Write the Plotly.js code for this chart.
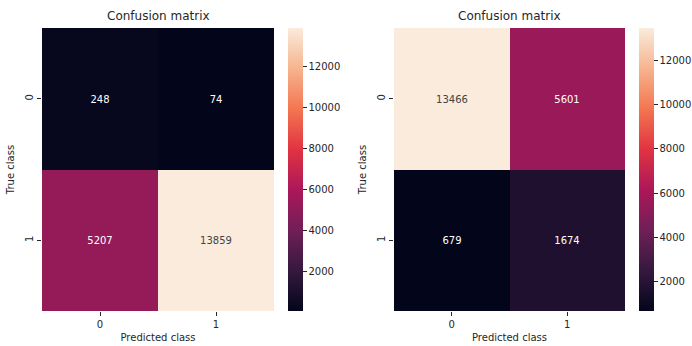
<!DOCTYPE html>
<html>
<head>
<meta charset="utf-8">
<script src="https://cdn.plot.ly/plotly-3.0.1.min.js"></script>
<style>html,body{margin:0;padding:0;background:#fff;}#chart{width:692px;height:346px;}</style>
</head>
<body>
<div id="chart"></div>
<script>
const predictedClasses = ["0", "1"];
const trueClasses = ["0", "1"];
const leftMatrix = [[248, 74], [5207, 13859]];
const rightMatrix = [[13466, 5601], [679, 1674]];
const colorbarTicks = [2000, 4000, 6000, 8000, 10000, 12000];

const rocket = [
  [0.0, '#03051a'],
  [0.143, '#35193e'],
  [0.286, '#701f57'],
  [0.429, '#ad1759'],
  [0.571, '#e13342'],
  [0.714, '#f37651'],
  [0.857, '#f6b48f'],
  [1.0, '#faebdd']
];

const FONT = 'DejaVu Sans, sans-serif';
const TXT = '#262626';
const W = 692, H = 346;
const px = v => v / W;
const py = v => 1 - v / H;

function flat(m) { return m.flat(); }

const traces = [
  {
    type: 'heatmap', x: predictedClasses, y: trueClasses, z: leftMatrix,
    coloraxis: 'coloraxis', xaxis: 'x', yaxis: 'y',
    texttemplate: '%{z:d}', textfont: {family: FONT, size: 10},
    hoverinfo: 'skip'
  },
  {
    type: 'heatmap', x: predictedClasses, y: trueClasses, z: rightMatrix,
    coloraxis: 'coloraxis2', xaxis: 'x2', yaxis: 'y2',
    texttemplate: '%{z:d}', textfont: {family: FONT, size: 10},
    hoverinfo: 'skip'
  }
];

function cbar(xLeft) {
  return {
    x: px(xLeft), xanchor: 'left', xref: 'paper',
    y: py(311), yanchor: 'bottom', yref: 'paper',
    len: 283, lenmode: 'pixels', thickness: 15, thicknessmode: 'pixels',
    xpad: 0, ypad: 0, outlinewidth: 0,
    tickmode: 'array', tickvals: colorbarTicks, tickformat: 'd',
    ticks: 'outside', ticklen: 4, tickwidth: 1, tickcolor: TXT,
    tickfont: {family: FONT, size: 10, color: TXT}
  };
}

function xax(l, r, anchor) {
  return {
    domain: [px(l), px(r)], anchor: anchor, type: 'category',
    showgrid: false, zeroline: false, showline: false,
    ticks: 'outside', ticklen: 4, tickcolor: TXT,
    tickfont: {family: FONT, size: 10, color: TXT},
    title: {text: 'Predicted class', font: {family: FONT, size: 10, color: TXT}, standoff: 4},
    fixedrange: true
  };
}
function yax(anchor) {
  return {
    domain: [py(311), py(28)], anchor: anchor, type: 'category', autorange: 'reversed',
    showgrid: false, zeroline: false, showline: false,
    ticks: 'outside', ticklen: 4, tickcolor: TXT, tickangle: -90,
    tickfont: {family: FONT, size: 10, color: TXT},
    title: {text: 'True class', font: {family: FONT, size: 10, color: TXT}, standoff: 7},
    fixedrange: true
  };
}

const layout = {
  width: W, height: H,
  margin: {l: 0, r: 0, t: 0, b: 0},
  paper_bgcolor: '#fff', plot_bgcolor: '#fff',
  font: {family: FONT, color: TXT},
  showlegend: false,
  xaxis: xax(42, 274, 'y'),
  yaxis: yax('x'),
  xaxis2: xax(394, 625, 'y2'),
  yaxis2: yax('x2'),
  coloraxis: {
    colorscale: rocket,
    cmin: Math.min(...flat(leftMatrix)), cmax: Math.max(...flat(leftMatrix)),
    colorbar: cbar(288)
  },
  coloraxis2: {
    colorscale: rocket,
    cmin: Math.min(...flat(rightMatrix)), cmax: Math.max(...flat(rightMatrix)),
    colorbar: cbar(639)
  },
  annotations: [
    {text: 'Confusion matrix', x: (px(42) + px(274)) / 2, y: py(16), xref: 'paper', yref: 'paper',
     showarrow: false, xanchor: 'center', yanchor: 'middle', font: {family: FONT, size: 12, color: TXT}},
    {text: 'Confusion matrix', x: (px(394) + px(625)) / 2, y: py(16), xref: 'paper', yref: 'paper',
     showarrow: false, xanchor: 'center', yanchor: 'middle', font: {family: FONT, size: 12, color: TXT}}
  ]
};

Plotly.newPlot('chart', traces, layout, {staticPlot: true, displayModeBar: false});
</script>
</body>
</html>
